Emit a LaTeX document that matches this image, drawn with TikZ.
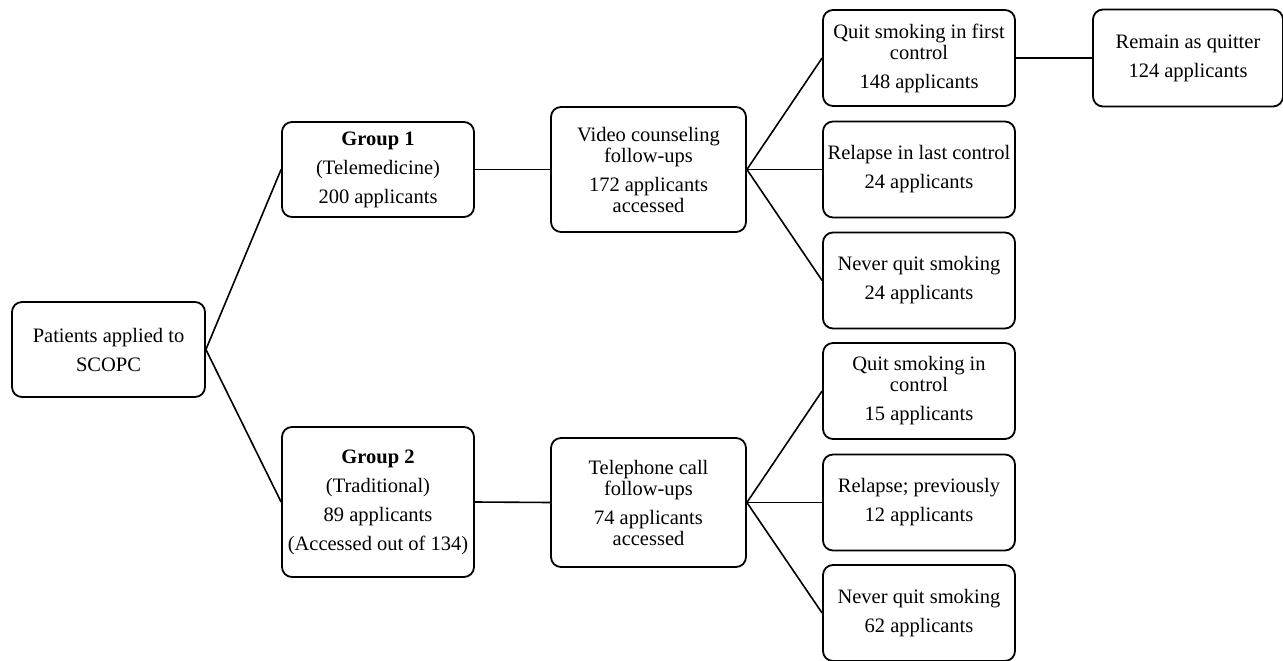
\documentclass[tikz,border=0pt]{standalone}
\usepackage{fontspec}
\setmainfont{Liberation Serif}
\begin{document}
\begin{tikzpicture}[x=1pt,y=-1pt,
  box/.style={draw,rounded corners=10pt,line width=1.8pt,align=center,
    inner sep=0pt,minimum width=192pt,minimum height=96pt,
    font=\fontsize{20.5}{29}\selectfont},
  link/.style={line width=1.6pt}]
\useasboundingbox (0,0) rectangle (1283,661);
\node[box,minimum width=193pt,minimum height=95pt] (pat) at (108.5,349.5) {Patients applied to\\SCOPC};
\node[box,minimum height=95pt] (grpa) at (378,169.5) {\textbf{Group 1}\\(Telemedicine)\\200 applicants};
\node[box,minimum height=150pt] (grpb) at (378,502) {\textbf{Group 2}\\(Traditional)\\89 applicants\\(Accessed out of 134)};
\node[box,minimum width=195pt,minimum height=125pt] (video) at (648.5,169.5) {Video counseling\\[-8pt]follow-ups\\172 applicants\\[-8pt]accessed};
\node[box,minimum width=195pt,minimum height=129pt] (phone) at (648.5,502.5) {Telephone call\\[-8pt]follow-ups\\74 applicants\\[-8pt]accessed};
\node[box] (quita) at (919,58) {Quit smoking in first\\[-8pt]control\\148 applicants};
\node[box] (relapsea) at (919,169.5) {Relapse in last control\\24 applicants};
\node[box] (nevera) at (919,280.5) {Never quit smoking\\24 applicants};
\node[box] (quitb) at (919,391) {Quit smoking in\\[-8pt]control\\15 applicants};
\node[box] (relapseb) at (919,502.5) {Relapse; previously\\12 applicants};
\node[box] (neverb) at (919,613) {Never quit smoking\\62 applicants};
\node[box,minimum width=190pt,minimum height=97pt] (remain) at (1188,58) {Remain as quitter\\124 applicants};
\draw[link] (pat.east) -- (grpa.west);
\draw[link] (pat.east) -- (grpb.west);
\draw[link] (grpa.east) -- (video.west);
\draw[link] (grpb.east) -- (phone.west);
\foreach \n in {quita,relapsea,nevera}
  \draw[link] (video.east) -- (\n.west);
\foreach \n in {quitb,relapseb,neverb}
  \draw[link] (phone.east) -- (\n.west);
\draw[link] (quita.east) -- (remain.west);
\end{tikzpicture}
\end{document}
